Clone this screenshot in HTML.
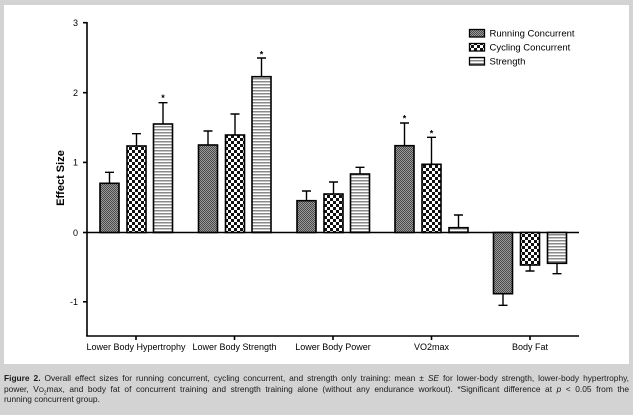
<!DOCTYPE html>
<html><head><meta charset="utf-8">
<style>
html,body{margin:0;padding:0;}
body{width:633px;height:415px;background:#d3d3d3;position:relative;overflow:hidden;font-family:"Liberation Sans",Arial,sans-serif;}
#panel{position:absolute;left:4px;top:5px;width:625px;height:359px;background:#fff;}
svg{position:absolute;left:0;top:0;}
.cap{position:absolute;left:4px;width:625px;font-size:8.4px;color:#1a1a1a;white-space:nowrap;text-align:justify;text-align-last:justify;line-height:11px;}
</style></head><body>
<div id="panel"></div>
<svg width="633" height="415" viewBox="0 0 633 415" xmlns="http://www.w3.org/2000/svg" font-family="Liberation Sans, Arial, sans-serif">
<defs>
<pattern id="pRun" width="2" height="2" patternUnits="userSpaceOnUse">
<rect width="2" height="2" fill="#9a9a9a"/><rect width="1" height="1" fill="#4a4a4a"/><rect x="1" y="1" width="1" height="1" fill="#4a4a4a"/>
</pattern>
<pattern id="pCyc" width="6" height="6" patternUnits="userSpaceOnUse">
<rect width="6" height="6" fill="#fff"/><rect width="3" height="3" fill="#111"/><rect x="3" y="3" width="3" height="3" fill="#111"/>
</pattern>
<pattern id="pStr" width="3" height="3" patternUnits="userSpaceOnUse">
<rect width="3" height="3" fill="#fff"/><rect width="3" height="1.5" fill="#8a8a8a"/>
</pattern>
</defs>

<!-- axes -->
<g stroke="#000" stroke-width="1.6" fill="none">
<line x1="87" y1="22" x2="87" y2="336.5"/>
<line x1="86.2" y1="336" x2="579" y2="336"/>
<line x1="87" y1="232.5" x2="579" y2="232.5"/>
<line x1="83" y1="22.7" x2="87" y2="22.7"/>
<line x1="83" y1="92.7" x2="87" y2="92.7"/>
<line x1="83" y1="162.4" x2="87" y2="162.4"/>
<line x1="83" y1="232.5" x2="87" y2="232.5"/>
<line x1="83" y1="301.8" x2="87" y2="301.8"/>
<line x1="136" y1="336" x2="136" y2="340"/>
<line x1="234.5" y1="336" x2="234.5" y2="340"/>
<line x1="333" y1="336" x2="333" y2="340"/>
<line x1="431.5" y1="336" x2="431.5" y2="340"/>
<line x1="530" y1="336" x2="530" y2="340"/>
</g>
<g font-size="9" fill="#000" text-anchor="end">
<text x="78" y="26">3</text>
<text x="78" y="96">2</text>
<text x="78" y="165.7">1</text>
<text x="78" y="235.8">0</text>
<text x="78" y="305">-1</text>
</g>
<text transform="translate(64,178) rotate(-90)" font-size="11" font-weight="bold" text-anchor="middle" fill="#000">Effect Size</text>

<g font-size="9" fill="#000" text-anchor="middle">
<text x="136" y="350">Lower Body Hypertrophy</text>
<text x="234.5" y="350">Lower Body Strength</text>
<text x="333" y="350">Lower Body Power</text>
<text x="431.5" y="350">VO2max</text>
<text x="530" y="350">Body Fat</text>
</g>

<!-- error bars -->
<g stroke="#000" stroke-width="1.4" fill="none">
<path d="M109.5 183.3V172.3M105 172.3H114"/>
<path d="M136.5 146V133.7M132 133.7H141"/>
<path d="M163 124V102.7M158.5 102.7H167.5"/>
<path d="M208 145V131M203.5 131H212.5"/>
<path d="M235 135V114M230.5 114H239.5"/>
<path d="M261.5 76.7V58M257 58H266"/>
<path d="M306.5 200.7V191M302 191H311"/>
<path d="M333.5 194V182M329 182H338"/>
<path d="M360 174V167.3M355.5 167.3H364.5"/>
<path d="M404.5 145.7V123M400 123H409"/>
<path d="M431.5 164.3V137.3M427 137.3H436"/>
<path d="M458.5 227.7V215M454 215H463"/>
<path d="M503 293.7V305.3M498.5 305.3H507.5"/>
<path d="M530 265V271M525.5 271H534.5"/>
<path d="M557 263.3V273.7M552.5 273.7H561.5"/>
</g>

<!-- bars -->
<g stroke="#000" stroke-width="1.6">
<rect x="100" y="183.3" width="19" height="49.2" fill="url(#pRun)"/>
<rect x="127" y="146" width="19" height="86.5" fill="url(#pCyc)"/>
<rect x="153.5" y="124" width="19" height="108.5" fill="url(#pStr)"/>
<rect x="198.5" y="145" width="19" height="87.5" fill="url(#pRun)"/>
<rect x="225.5" y="135" width="19" height="97.5" fill="url(#pCyc)"/>
<rect x="252" y="76.7" width="19" height="155.8" fill="url(#pStr)"/>
<rect x="297" y="200.7" width="19" height="31.8" fill="url(#pRun)"/>
<rect x="324" y="194" width="19" height="38.5" fill="url(#pCyc)"/>
<rect x="350.5" y="174" width="19" height="58.5" fill="url(#pStr)"/>
<rect x="395" y="145.7" width="19" height="86.8" fill="url(#pRun)"/>
<rect x="422" y="164.3" width="19" height="68.2" fill="url(#pCyc)"/>
<rect x="449" y="227.7" width="19" height="4.8" fill="url(#pStr)"/>
<rect x="493.5" y="232.5" width="19" height="61.2" fill="url(#pRun)"/>
<rect x="520.5" y="232.5" width="19" height="32.5" fill="url(#pCyc)"/>
<rect x="547.5" y="232.5" width="19" height="30.8" fill="url(#pStr)"/>
</g>

<!-- significance stars -->
<g font-size="9" font-weight="bold" fill="#000" text-anchor="middle">
<text x="163" y="101">*</text>
<text x="261.5" y="57.7">*</text>
<text x="404.5" y="121.7">*</text>
<text x="431.5" y="136.7">*</text>
</g>

<!-- legend -->
<g stroke="#000" stroke-width="1.3">
<rect x="469.5" y="29.5" width="15" height="7.5" fill="url(#pRun)"/>
<rect x="469.5" y="43.5" width="15" height="7.5" fill="url(#pCyc)"/>
<rect x="469.5" y="57.5" width="15" height="7.5" fill="url(#pStr)"/>
</g>
<g font-size="9.5" fill="#000">
<text x="489.5" y="36.7">Running Concurrent</text>
<text x="489.5" y="50.7">Cycling Concurrent</text>
<text x="489.5" y="64.7">Strength</text>
</g>
</svg>

<div class="cap" style="top:372.5px;"><b>Figure 2.</b> Overall effect sizes for running concurrent, cycling concurrent, and strength only training: mean ± <i>SE</i> for lower-body strength, lower-body hypertrophy,</div>
<div class="cap" style="top:384px;">power, V<span style="font-size:6.5px">O</span><sub style="font-size:5px">2</sub>max, and body fat of concurrent training and strength training alone (without any endurance workout). *Significant difference at <i>p</i> &lt; 0.05 from the</div>
<div class="cap" style="top:394px;text-align:left;text-align-last:left;">running concurrent group.</div>
</body></html>
